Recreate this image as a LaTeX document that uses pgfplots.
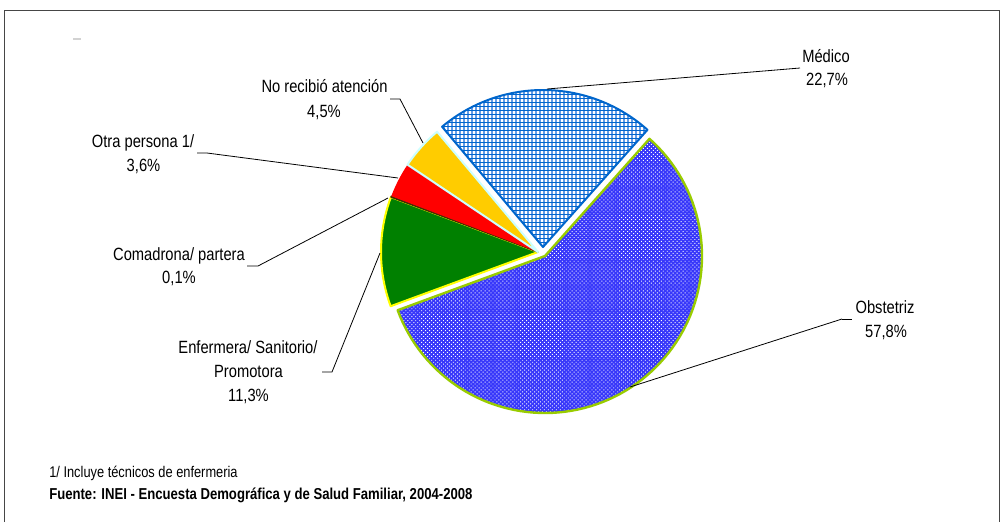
\documentclass[border=0pt]{standalone}
\usepackage{pgfplots}
\pgfplotsset{compat=1.18}
\usepackage{fontspec}
\setmainfont[FakeStretch=0.83]{Liberation Sans}
\usetikzlibrary{patterns.meta}

\definecolor{medblue}{RGB}{0,102,204}
\definecolor{medlight}{RGB}{100,155,230}
\definecolor{obsfill}{RGB}{55,55,250}
\definecolor{obsborder}{RGB}{153,204,0}
\definecolor{enfgreen}{RGB}{0,128,0}
\definecolor{enfborder}{RGB}{255,255,0}
\definecolor{comabrown}{RGB}{64,48,0}
\definecolor{otrared}{RGB}{255,0,0}
\definecolor{nogold}{RGB}{255,204,0}
\definecolor{nocyan}{RGB}{204,255,255}
\definecolor{framegray}{RGB}{70,70,70}

\tikzset{
  medbase/.style={fill=white, draw=none},
  medv/.style={draw=none, pattern={Lines[angle=90,distance=3pt,line width=0.85pt]}, pattern color=medlight},
  medh/.style={draw=none, pattern={Lines[angle=0,distance=3pt,line width=0.7pt]}, pattern color=medblue},
  medb/.style={draw=medblue, line width=1.5pt, line join=round, fill=none},
  obsbase/.style={fill=obsfill, draw=none},
  obsdots/.style={draw=none, pattern={Dots[angle=45,distance=2.1pt,radius=0.5pt]}, pattern color=white},
  obsb/.style={draw=obsborder, line width=1.8pt, line join=round, fill=none},
  enf/.style={fill=enfgreen, draw=enfborder, line width=1.5pt, line join=round},
  coma/.style={fill=comabrown, draw=comabrown, line width=1pt, line join=round},
  otra/.style={fill=otrared, draw=none},
  norec/.style={fill=nogold, draw=nocyan, line width=1.5pt, line join=round},
}

\newcommand\lab{\fontsize{13.3}{18}\selectfont}
\newcommand\foot{\fontsize{11.6}{16}\selectfont}
\newcommand\footb{\fontsize{11.85}{16}\selectfont\bfseries}

\gdef\cum{0}
% #1 percentage, #2 cx, #3 cy (pixels), #4 layer styles
\newcommand\slice[4]{%
  \pgfmathsetmacro\aB{130-3.6*\cum}%
  \pgfmathsetmacro\aA{130-3.6*(\cum+#1)}%
  \pgfmathsetmacro\newcum{\cum+#1}\xdef\cum{\newcum}%
  \pgfplotsforeachungrouped \s in {#4}{%
    \edef\doit{\noexpand\addplot[\s, domain=\aA:\aB, samples=90] ({#2+157*cos(x)},{#3-157*sin(x)}) -- (axis cs:#2,#3) -- cycle;}%
    \doit
  }%
}

\begin{document}
\begin{tikzpicture}
\begin{axis}[
  width=750.75pt, height=391.5pt, scale only axis,
  xmin=0, xmax=1001, ymin=0, ymax=522, y dir=reverse,
  hide axis, clip=false,
]
\path (axis cs:0,0) rectangle (axis cs:1001,522);
% frame
\addplot[draw=framegray, line width=0.9pt] coordinates {(4.5,522) (4.5,10.5) (999.5,10.5) (999.5,522)};
\addplot[draw=gray!35, line width=0.8pt] coordinates {(73,39) (81,39)};

% pie slices (clockwise from 130 degrees)
\slice{22.7}{543}{247}{medbase,medv,medh,medb}   % Medico
\slice{57.8}{545}{256}{obsbase,obsdots,obsb}     % Obstetriz
\slice{11.3}{538}{252}{enf}                      % Enfermera
\slice{0.1}{538}{252}{coma}                      % Comadrona
\slice{3.6}{538}{252}{otra}                      % Otra persona
\slice{4.5}{538}{252}{norec}                     % No recibio

% leader lines
\addplot[black, line width=0.6pt] coordinates {(800,68) (547,89)};
\addplot[black, line width=0.6pt] coordinates {(842,319) (852,319)};
\addplot[black, line width=0.6pt] coordinates {(842,319) (630,387)};
\addplot[black, line width=0.6pt] coordinates {(390,99) (400,99) (423,143)};
\addplot[black, line width=0.6pt] coordinates {(197,153) (207,153) (398,178)};
\addplot[black, line width=0.6pt] coordinates {(247,266) (258,266) (388,198)};
\addplot[black, line width=0.6pt] coordinates {(322,372) (332,372) (380,253)};

% labels
\node[anchor=base, font=\lab] at (axis cs:826,62) {Médico};
\node[anchor=base, font=\lab] at (axis cs:827,85) {22,7\%};
\node[anchor=base, font=\lab] at (axis cs:885,313) {Obstetriz};
\node[anchor=base, font=\lab] at (axis cs:886,337) {57,8\%};
\node[anchor=base, font=\lab] at (axis cs:324.5,92.7) {No recibió atención};
\node[anchor=base, font=\lab] at (axis cs:324,117.7) {4,5\%};
\node[anchor=base, font=\lab] at (axis cs:143,147.7) {Otra persona 1/};
\node[anchor=base, font=\lab] at (axis cs:143.5,171) {3,6\%};
\node[anchor=base, font=\lab] at (axis cs:179,260) {Comadrona/ partera};
\node[anchor=base, font=\lab] at (axis cs:179,283.3) {0,1\%};
\node[anchor=base, font=\lab] at (axis cs:248,353.3) {Enfermera/ Sanitorio/};
\node[anchor=base, font=\lab] at (axis cs:248.5,377.7) {Promotora};
\node[anchor=base, font=\lab] at (axis cs:248.5,401.7) {11,3\%};

% footer
\node[anchor=base west, font=\foot, inner sep=0pt] at (axis cs:49,477) {1/ Incluye técnicos de enfermeria};
\node[anchor=base west, font=\footb, inner sep=0pt] at (axis cs:49,499) {Fuente: INEI - Encuesta Demográfica y de Salud Familiar, 2004-2008};
\end{axis}
\end{tikzpicture}
\end{document}
